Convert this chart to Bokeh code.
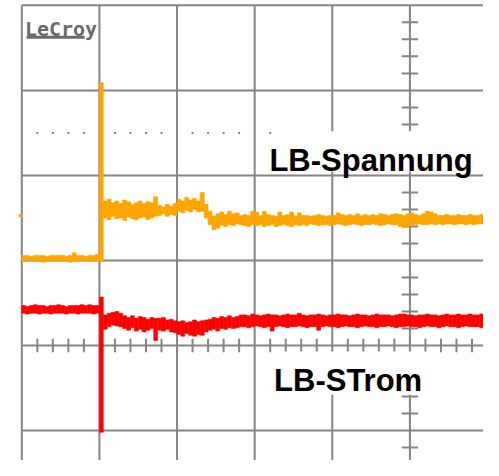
from bokeh.plotting import figure
from bokeh.models import Range1d, BoxAnnotation, Label, ColumnDataSource
from bokeh.embed import file_html
from bokeh.resources import INLINE
import numpy as np

# ---- data (units: scope divisions; time in horizontal divisions) ----
DT = 0.05  # horizontal divisions per displayed sample column

# LB-Spannung (orange trace) : upper / lower envelope per column
ORANGE_HI = [
    1.06, 1.06, 1.05, 1.06, 1.06, 1.06, 1.05, 1.06, 1.06, 1.06,
    1.06, 1.05, 1.06, 1.09, 1.06, 1.06, 1.05, 1.06, 1.06, 1.07,
    3.09, 1.70, 1.72, 1.68, 1.70, 1.67, 1.71, 1.69, 1.66, 1.68,
    1.70, 1.67, 1.69, 1.68, 1.75, 1.65, 1.63, 1.66, 1.64, 1.67,
    1.72, 1.70, 1.74, 1.71, 1.73, 1.70, 1.80, 1.66, 1.58, 1.52,
    1.55, 1.57, 1.54, 1.58, 1.55, 1.56, 1.53, 1.54, 1.53, 1.58,
    1.57, 1.53, 1.58, 1.54, 1.53, 1.52, 1.57, 1.53, 1.54, 1.57,
    1.52, 1.56, 1.53, 1.53, 1.52, 1.53, 1.54, 1.53, 1.52, 1.53,
    1.53, 1.56, 1.54, 1.53, 1.54, 1.53, 1.55, 1.53, 1.54, 1.53,
    1.54, 1.53, 1.55, 1.54, 1.53, 1.54, 1.55, 1.54, 1.53, 1.55,
    1.56, 1.54, 1.53, 1.55, 1.58, 1.57, 1.55, 1.53, 1.53, 1.54,
    1.53, 1.53, 1.54, 1.53, 1.53, 1.54, 1.53, 1.53, 1.54, 1.53,
]
ORANGE_LO = [
    0.99, 0.99, 1.00, 0.99, 0.99, 0.98, 0.99, 0.99, 1.00, 0.99,
    0.99, 0.99, 0.98, 0.99, 0.99, 1.00, 0.99, 0.99, 0.99, 0.99,
    0.99, 1.50, 1.48, 1.52, 1.49, 1.50, 1.47, 1.51, 1.49, 1.48,
    1.50, 1.51, 1.48, 1.50, 1.52, 1.53, 1.55, 1.52, 1.54, 1.53,
    1.58, 1.56, 1.59, 1.57, 1.60, 1.57, 1.58, 1.50, 1.42, 1.36,
    1.38, 1.41, 1.40, 1.42, 1.41, 1.43, 1.42, 1.41, 1.40, 1.42,
    1.41, 1.42, 1.40, 1.41, 1.42, 1.40, 1.41, 1.42, 1.41, 1.40,
    1.42, 1.41, 1.42, 1.41, 1.43, 1.42, 1.41, 1.42, 1.42, 1.41,
    1.42, 1.43, 1.42, 1.41, 1.42, 1.43, 1.42, 1.41, 1.42, 1.42,
    1.43, 1.42, 1.41, 1.42, 1.43, 1.42, 1.42, 1.40, 1.39, 1.40,
    1.41, 1.42, 1.43, 1.42, 1.42, 1.43, 1.42, 1.43, 1.42, 1.43,
    1.43, 1.42, 1.43, 1.43, 1.42, 1.43, 1.42, 1.43, 1.43, 1.42,
]
# LB-STrom (red trace)
RED_HI = [
    0.47, 0.46, 0.47, 0.48, 0.47, 0.47, 0.46, 0.47, 0.47, 0.48,
    0.47, 0.46, 0.47, 0.47, 0.47, 0.48, 0.47, 0.48, 0.47, 0.47,
    0.57, 0.36, 0.38, 0.39, 0.40, 0.38, 0.35, 0.33, 0.35, 0.32,
    0.34, 0.33, 0.31, 0.33, 0.32, 0.32, 0.33, 0.30, 0.31, 0.29,
    0.28, 0.29, 0.27, 0.28, 0.30, 0.28, 0.29, 0.30, 0.31, 0.33,
    0.32, 0.34, 0.33, 0.35, 0.33, 0.34, 0.36, 0.36, 0.35, 0.37,
    0.36, 0.35, 0.36, 0.37, 0.36, 0.36, 0.35, 0.36, 0.37, 0.36,
    0.36, 0.38, 0.36, 0.35, 0.36, 0.36, 0.37, 0.36, 0.35, 0.36,
    0.36, 0.37, 0.36, 0.36, 0.35, 0.36, 0.37, 0.36, 0.36, 0.35,
    0.36, 0.37, 0.36, 0.36, 0.36, 0.35, 0.36, 0.37, 0.37, 0.36,
    0.36, 0.35, 0.36, 0.36, 0.37, 0.36, 0.36, 0.35, 0.36, 0.37,
    0.36, 0.36, 0.37, 0.36, 0.36, 0.37, 0.36, 0.36, 0.37, 0.36,
]
RED_LO = [
    0.38, 0.37, 0.38, 0.38, 0.37, 0.38, 0.38, 0.37, 0.38, 0.38,
    0.38, 0.37, 0.38, 0.38, 0.37, 0.38, 0.38, 0.38, 0.37, 0.38,
    -1.02, 0.19, 0.22, 0.24, 0.23, 0.22, 0.20, 0.18, 0.21, 0.17,
    0.19, 0.16, 0.18, 0.20, 0.06, 0.18, 0.17, 0.19, 0.16, 0.15,
    0.13, 0.11, 0.14, 0.12, 0.11, 0.13, 0.12, 0.16, 0.18, 0.19,
    0.17, 0.20, 0.19, 0.21, 0.20, 0.21, 0.22, 0.22, 0.21, 0.22,
    0.23, 0.22, 0.21, 0.22, 0.17, 0.22, 0.23, 0.22, 0.21, 0.22,
    0.22, 0.23, 0.22, 0.21, 0.22, 0.22, 0.18, 0.22, 0.23, 0.22,
    0.22, 0.21, 0.22, 0.23, 0.22, 0.22, 0.21, 0.22, 0.23, 0.22,
    0.22, 0.21, 0.22, 0.22, 0.23, 0.22, 0.21, 0.22, 0.22, 0.23,
    0.22, 0.22, 0.21, 0.22, 0.23, 0.22, 0.22, 0.21, 0.22, 0.23,
    0.22, 0.22, 0.21, 0.22, 0.23, 0.22, 0.22, 0.22, 0.21, 0.22,
]
CH1_OFFSET_MARK = 1.53      # orange channel marker level at the left edge
GRID_T = [0, 1, 2, 3, 4, 5]
GRID_V = [4, 3, 2, 1, 0, -1]
CURSOR_LEVEL = 2.5
LABEL_U = "LB-Spannung"
LABEL_I = "LB-STrom"
LOGO = "LeCroy"

ORANGE = "#FFA500"
RED = "#FF0000"
GRIDC = "#858585"

X0, X1 = -0.2743, 5.948
Y0, Y1 = -1.352, 4.057

p = figure(width=483, height=460, x_range=Range1d(X0, X1), y_range=Range1d(Y0, Y1),
           output_backend="svg", toolbar_location=None,
           x_axis_location=None, y_axis_location=None,
           min_border_left=0, min_border_right=0, min_border_top=0, min_border_bottom=0)
p.grid.visible = False
p.outline_line_color = None
p.background_fill_color = "white"
p.border_fill_color = "white"

# main graticule
p.segment(x0=GRID_T, y0=[Y0 - 1] * len(GRID_T), x1=GRID_T, y1=[4] * len(GRID_T),
          line_color=GRIDC, line_width=2)
p.segment(x0=[0] * len(GRID_V), y0=GRID_V, x1=[X1 + 1] * len(GRID_V), y1=GRID_V,
          line_color=GRIDC, line_width=2)

# minor ticks on the centre axes
tx = [round(v, 2) for v in np.arange(0.2, 5.95, 0.2) if abs(v - round(v)) > 1e-6]
p.segment(x0=tx, y0=[-0.08] * len(tx), x1=tx, y1=[0.08] * len(tx),
          line_color=GRIDC, line_width=2)
ty = [round(v, 2) for v in np.arange(-1.2, 3.9, 0.2) if abs(v - round(v)) > 1e-6]
p.segment(x0=[4.895] * len(ty), y0=ty, x1=[5.105] * len(ty), y1=ty,
          line_color=GRIDC, line_width=2)

# dotted cursor line
dx = [round(v, 2) for v in np.arange(0.2, 5.95, 0.2) if abs(v - round(v)) > 1e-6]
p.scatter(x=dx, y=[CURSOR_LEVEL] * len(dx), marker="square", size=2,
          fill_color=GRIDC, line_color=None)

# traces
def trace(hi, lo, color):
    n = min(len(hi), len(lo))
    t = [(k + 0.5) * DT for k in range(n)]
    src = ColumnDataSource(dict(t=t, hi=hi[:n], lo=lo[:n]))
    p.vbar(x="t", width=DT, top="hi", bottom="lo", source=src,
           fill_color=color, line_color=color, line_width=0.6)

trace(ORANGE_HI, ORANGE_LO, ORANGE)
trace(RED_HI, RED_LO, RED)

p.scatter(x=[-0.02], y=[CH1_OFFSET_MARK], marker="square", size=3,
          fill_color=ORANGE, line_color=None)

# label backgrounds
p.add_layout(BoxAnnotation(left=3.23, right=X1 + 1, top=2.52, bottom=2.045,
                           fill_color="white", fill_alpha=1.0, line_alpha=0))
p.add_layout(BoxAnnotation(left=3.25, right=5.3, top=-0.07, bottom=-0.58,
                           fill_color="white", fill_alpha=1.0, line_alpha=0))

p.add_layout(Label(x=3.19, y=2.18, text=LABEL_U, text_font="Liberation Sans",
                   text_font_style="bold", text_font_size="31px", text_color="black",
                   text_baseline="alphabetic", text_align="left"))
p.add_layout(Label(x=3.25, y=-0.41, text=LABEL_I, text_font="Liberation Sans",
                   text_font_style="bold", text_font_size="31px", text_color="black",
                   text_baseline="alphabetic", text_align="left"))

# LeCroy logo
p.add_layout(Label(x=0.04, y=3.72, text=LOGO, text_font="DejaVu Sans Mono",
                   text_font_style="bold", text_font_size="20px", text_color="#6a6a6a",
                   text_baseline="alphabetic", text_align="left"))
p.segment(x0=[0.062], y0=[3.625], x1=[0.81], y1=[3.625], line_color="#6a6a6a", line_width=3)

open("out.html", "w").write(file_html(p, INLINE))
